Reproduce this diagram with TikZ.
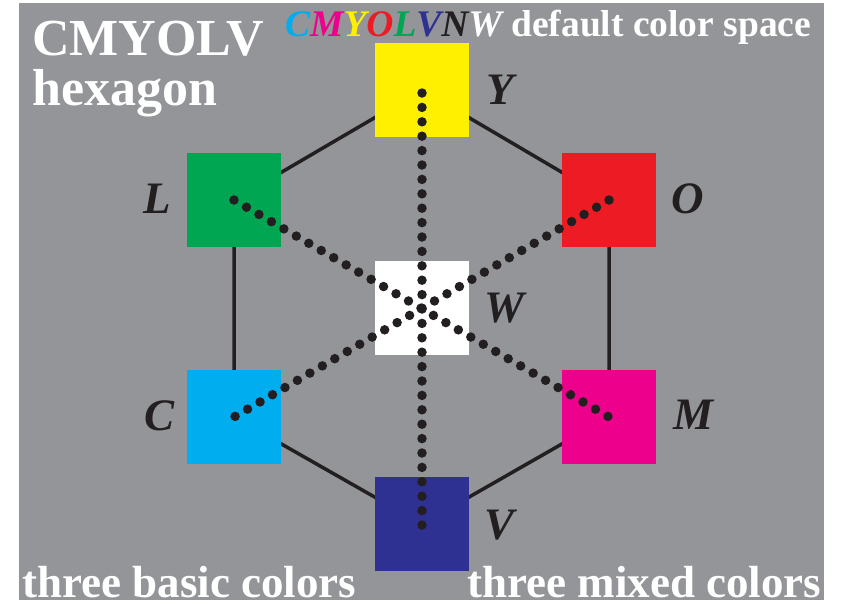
\documentclass[tikz,border=0pt]{standalone}
\usepackage{fontspec}
\setmainfont{Liberation Serif}
\usepackage{xcolor}
\definecolor{ColBg}{RGB}{147,149,152}
\definecolor{ColC}{RGB}{0,174,239}
\definecolor{ColM}{RGB}{236,0,140}
\definecolor{ColY}{RGB}{255,240,0}
\definecolor{ColO}{RGB}{237,28,36}
\definecolor{ColL}{RGB}{0,166,81}
\definecolor{ColV}{RGB}{46,49,146}
\definecolor{ColK}{RGB}{35,31,32}
\usepackage{tikz}
\tikzstyle{Square}=[rectangle,minimum size=94pt,inner sep=0pt]
\tikzstyle{Hex}=[draw=ColK,line width=3.5pt]
\tikzstyle{Dots}=[draw=ColK,line width=9.5pt,line cap=round,
dash pattern=on 0pt off 14.4pt]
\tikzstyle{Letter}=[text=ColK,anchor=base,inner sep=0pt,
font=\fontsize{45}{45}\selectfont\bfseries\itshape]
\tikzstyle{Title}=[text=white,anchor=base west,inner sep=0pt,
font=\fontsize{52}{52}\selectfont\bfseries]
\tikzstyle{Foot}=[text=white,anchor=base west,inner sep=0pt,
font=\fontsize{45}{45}\selectfont\bfseries]
\tikzstyle{Head}=[text=white,anchor=base west,inner sep=0pt,
font=\fontsize{37.5}{37.5}\selectfont\bfseries]

\begin{document}
\begin{tikzpicture}[x=1pt,y=-1pt]
        \useasboundingbox(0,0)rectangle(841,606);
        \fill[ColBg](19,3)rectangle(824,600);
        \coordinate(cY)at(422,90);
        \coordinate(cO)at(609,200);
        \coordinate(cM)at(609,417);
        \coordinate(cV)at(422,524);
        \coordinate(cC)at(234,417);
        \coordinate(cL)at(234,200);
        \coordinate(cW)at(422,308);
        \draw[Hex](cY)--(cO)--(cM)--(cV)--(cC)--(cL)--cycle;
        \node[Square,fill=ColY](Y)at(cY){};
        \node[Square,fill=ColO](O)at(cO){};
        \node[Square,fill=ColM](M)at(cM){};
        \node[Square,fill=ColV](V)at(cV){};
        \node[Square,fill=ColC](C)at(cC){};
        \node[Square,fill=ColL](L)at(cL){};
        \node[Square,fill=white](W)at(cW){};
        \draw[Dots]([yshift=-3pt]Y.center)--([yshift=-3pt]V.center);
        \draw[Dots](L.center)--(M.center);
        \draw[Dots](O.center)--(C.center);
        \node[Letter](lY)at(500,104){Y};
        \node[Letter](lO)at(688,213){O};
        \node[Letter](lM)at(693,429){M};
        \node[Letter](lV)at(500,539){V};
        \node[Letter](lC)at(160,430){C};
        \node[Letter](lL)at(157,213){L};
        \node[Letter](lW)at(505,322){W};
        \node[Title](t1)at(32,55){CMYOLV};
        \node[Title](t2)at(32,105){hexagon};
        \node[Head](t3)at(285,36){{\itshape\color{ColC}C\color{ColM}M%
\color{ColY}Y\color{ColO}O\color{ColL}L\color{ColV}V\color{ColK}N%
\color{white}W} default color space};
        \node[Foot](f1)at(22,597){three basic colors};
        \node[Foot](f2)at(467,597){three mixed colors};
    \end{tikzpicture}
\end{document}
